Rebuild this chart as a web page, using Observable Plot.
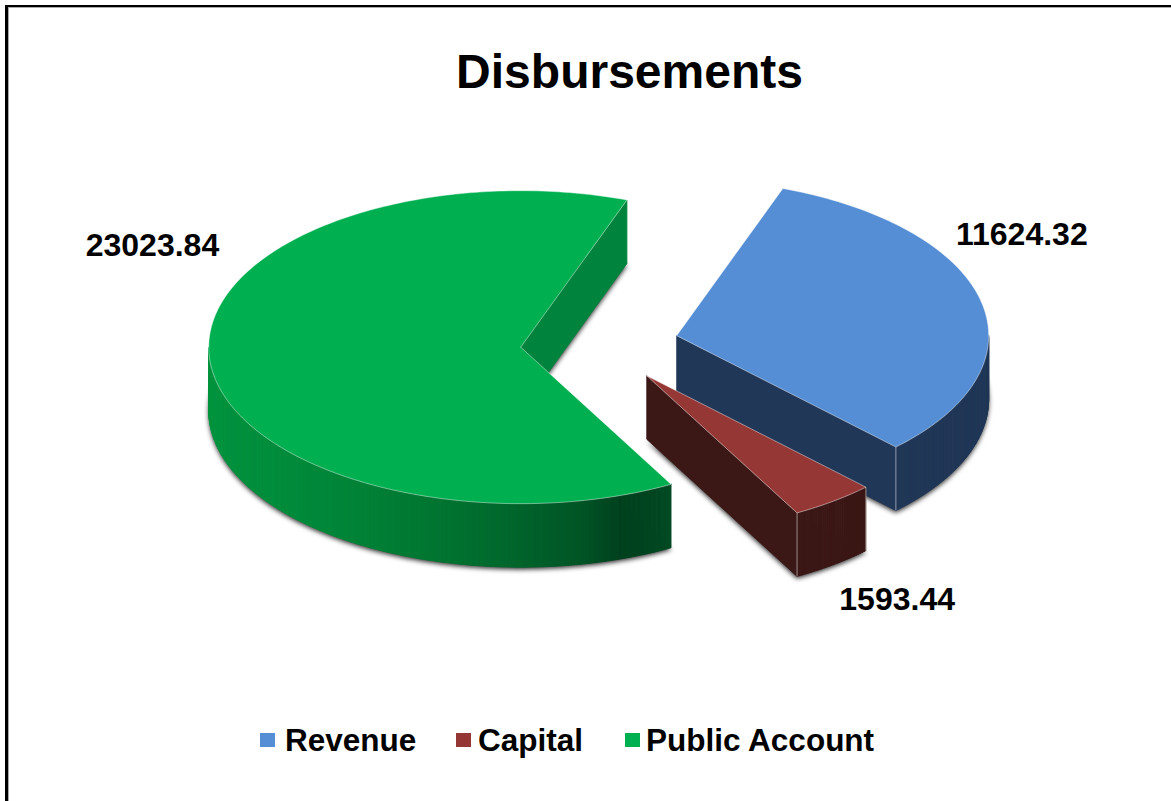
<!DOCTYPE html>
<html><head><meta charset="utf-8">
<script src="https://cdn.jsdelivr.net/npm/d3@7"></script>
<script src="https://cdn.jsdelivr.net/npm/@observablehq/plot@0.6"></script>
<style>
html,body{margin:0;padding:0;background:#fff;overflow:hidden;width:1171px;height:801px;font-family:"Liberation Sans",Arial,sans-serif;color:#000}
#frame{position:absolute;left:5px;top:5px;right:0;bottom:0;border-left:3px solid #000;border-top:2px solid #000;box-shadow:inset 1px 1px 0 #aaa;pointer-events:none}
#title{height:120px;box-sizing:border-box;padding-top:44px;padding-left:88px;text-align:center;font-size:48px;font-weight:bold;line-height:55px}
#chart svg{display:block}
#legend{position:relative;height:121px;font-size:31.5px;font-weight:bold}
#legend span.s{position:absolute;top:53px;width:15px;height:14px}
#legend span.t{position:absolute;top:42px;line-height:36px;white-space:nowrap}
</style></head>
<body>
<div id="frame"></div>
<div id="title">Disbursements</div>
<div id="chart"></div>
<div id="legend"></div>
<script>
// data
const categories = ["Revenue", "Capital", "Public Account"];
const values = [11624.32, 1593.44, 23023.84];
const topColors = ["#558ed5", "#953735", "#00b050"];
const wallColors = ["#213757", "#3b1715", null];
const faceColors = ["#213757", "#3b1715", "#00843d"];
const labelAngles = [59.8, 150.7, 298.8];
const labelRadii = [1.28, 1.64, 1.347];
const legendSwatchX = [260, 456, 625];
const legendTextX = [285, 478, 646];
// green wall shading, left to right
const greenWallX = [208, 330, 420, 500, 580, 620, 645, 671];
const greenWallC = ["#00943f", "#008739", "#007832", "#00692d", "#005526", "#00411e", "#004420", "#004b23"];

// pie layout (page pixels)
const W = 1171, H = 560, yTop = 120;
const cx = 599, cy = 343.6, rx = 312, ry = 156.5, depth = 63.5, explode = 79, rotation = 19.9;

const rad = d => d * Math.PI / 180;
const total = d3.sum(values);
let acc = rotation;
const slices = values.map((v, i) => {
  const a0 = acc, a1 = acc + v / total * 360; acc = a1;
  const mid = (a0 + a1) / 2;
  return {i, a0, a1, mid,
    ox: cx + explode * Math.sin(rad(mid)),
    oy: cy - explode * 0.5 * Math.cos(rad(mid))};
});
const pt = (s, a, dz = 0) => [s.ox + rx * Math.sin(rad(a)), s.oy - ry * Math.cos(rad(a)) + dz];
const arc = (s, a0, a1, dz = 0) => {
  const n = Math.max(2, Math.ceil((a1 - a0) / 1));
  return d3.range(n + 1).map(k => pt(s, a0 + (a1 - a0) * k / n, dz));
};
const greenShade = d3.scaleLinear().domain(greenWallX).range(greenWallC).interpolate(d3.interpolateRgb).clamp(true);

const polys = [], shadow = [], corners = [];
let id = 0;
const add = (arr, ring, fill, stroke) => {
  const k = id++;
  ring.forEach(([x, y]) => arr.push({x, y, k, fill, stroke}));
};
for (const s of [slices[2], slices[0], slices[1]]) {
  const c0 = [s.ox, s.oy], c1 = [s.ox, s.oy + depth];
  // shadow silhouette: bottom of the slice
  add(shadow, [c1, ...arc(s, s.a0, s.a1, depth), c1], "#555", "none");
  // cut face (the end edge faces the viewer when sin(a1) > 0)
  if (Math.sin(rad(s.a1)) > 0) {
    const e = pt(s, s.a1), eb = pt(s, s.a1, depth), col = faceColors[s.i];
    add(polys, [c0, e, eb, c1, c0], col, col);
  }
  // outer wall: lower half of the ellipse
  const lo = Math.max(s.a0, 90), hi = Math.min(s.a1, 270);
  if (hi > lo) {
    const n = Math.ceil((hi - lo) * 2);
    for (let k = 0; k < n; k++) {
      const a = lo + (hi - lo) * k / n, b = lo + (hi - lo) * (k + 1) / n + 0.05;
      const p = pt(s, a), q = pt(s, Math.min(b, hi)), pb = pt(s, a, depth), qb = pt(s, Math.min(b, hi), depth);
      const col = wallColors[s.i] || d3.color(greenShade((p[0] + q[0]) / 2)).formatHex();
      add(polys, [p, q, qb, pb, p], col, col);
    }
  }
  // top surface
  add(polys, [c0, ...arc(s, s.a0, s.a1), c0], topColors[s.i], "rgba(255,255,255,0.55)");
  // light corner lines on the visible wall corners
  if (s.i !== 2) {
    [s.a0, s.a1].forEach(a => {
      if (a > 90 && a < 270) {
        const p = pt(s, a), q = pt(s, a, depth);
        corners.push({x1: p[0], y1: p[1], x2: q[0], y2: q[1]});
      }
    });
  }
}
const labels = slices.map(s => ({
  text: String(values[s.i]),
  x: s.ox + labelRadii[s.i] * rx * Math.sin(rad(labelAngles[s.i])),
  y: s.oy - labelRadii[s.i] * ry * Math.cos(rad(labelAngles[s.i]))
}));

const chart = Plot.plot({
  width: W, height: H,
  margin: 0,
  x: {domain: [0, W], range: [0, W], axis: null},
  y: {domain: [yTop, yTop + H], range: [0, H], axis: null},
  color: {type: "identity"},
  style: {background: "transparent", overflow: "visible"},
  marks: [
    Plot.line(shadow, {x: "x", y: "y", z: "k", fill: "fill", stroke: "none", imageFilter: "drop-shadow(0px 2px 2.5px rgba(0,0,0,0.85))"}),
    Plot.line(polys, {x: "x", y: "y", z: "k", fill: "fill", stroke: "stroke", strokeWidth: 0.8, curve: "linear"}),
    Plot.link(corners, {x1: "x1", y1: "y1", x2: "x2", y2: "y2", stroke: "rgba(255,255,255,0.5)", strokeWidth: 1}),
    Plot.text(labels, {x: "x", y: "y", text: "text", fontSize: 32, fontWeight: "bold", fontFamily: "Liberation Sans", fill: "#000", textAnchor: "middle"})
  ]
});
document.getElementById("chart").append(chart);

const legend = document.getElementById("legend");
categories.forEach((c, i) => {
  const s = document.createElement("span"); s.className = "s";
  s.style.left = legendSwatchX[i] + "px"; s.style.background = topColors[i];
  const t = document.createElement("span"); t.className = "t";
  t.style.left = legendTextX[i] + "px"; t.textContent = c;
  legend.append(s, t);
});
</script>
</body></html>
